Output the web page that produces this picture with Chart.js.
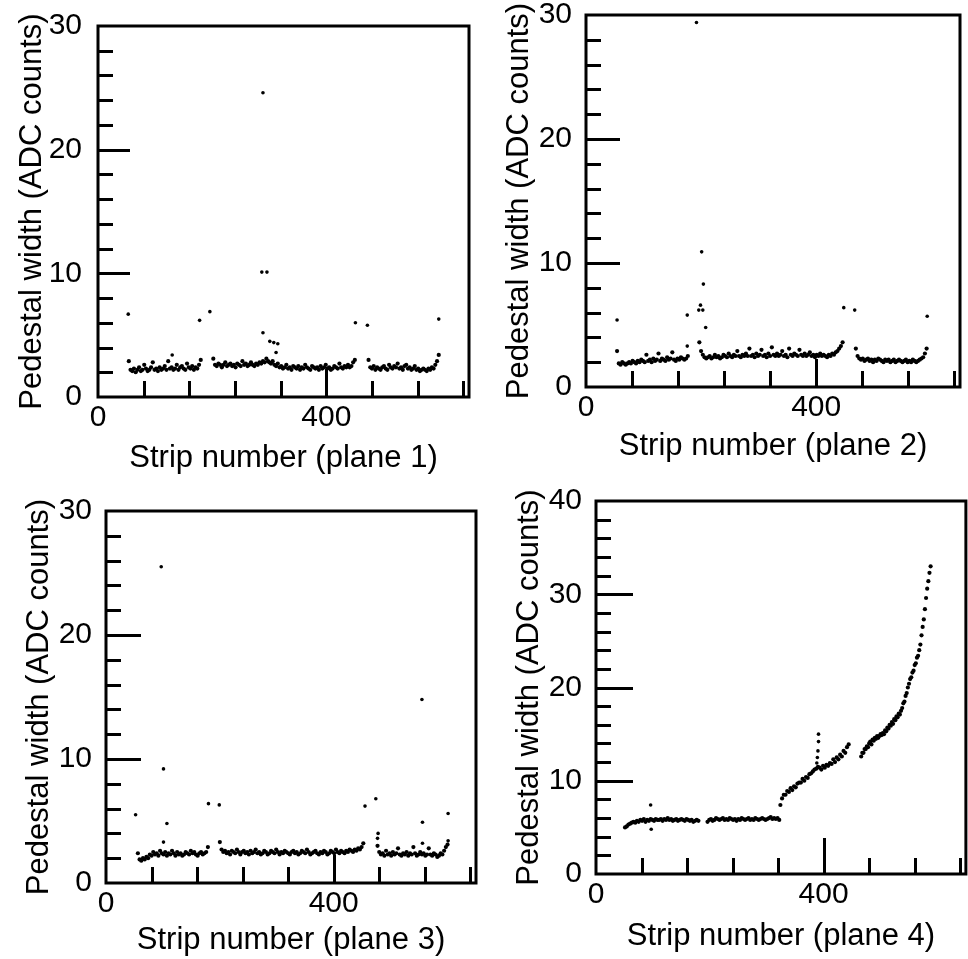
<!DOCTYPE html>
<html>
<head>
<meta charset="utf-8">
<script src="https://cdn.jsdelivr.net/npm/chart.js@4.4.1/dist/chart.umd.min.js"></script>
<style>
html,body{margin:0;padding:0;background:#fff;}
#wrap{position:relative;width:968px;height:959px;overflow:hidden;background:#fff;}
canvas{position:absolute;}
</style>
</head>
<body>
<div id="wrap">
<canvas id="c1" width="484" height="490" style="left:0px;top:0px;width:484px;height:490px"></canvas>
<canvas id="c2" width="484" height="490" style="left:484px;top:0px;width:484px;height:490px"></canvas>
<canvas id="c3" width="484" height="489" style="left:0px;top:470px;width:484px;height:489px"></canvas>
<canvas id="c4" width="484" height="489" style="left:484px;top:470px;width:484px;height:489px"></canvas>
</div>
<script>
// ---------------- DATA ----------------
const xTickLabels = [0, 400];
const xMinorTicks = [80, 160, 240, 320, 400, 480, 560, 640];
const yTickLabels30 = [0, 10, 20, 30];
const yTickLabels40 = [0, 10, 20, 30, 40];
const yTitle = 'Pedestal width (ADC counts)';
const xTitles = ['Strip number (plane 1)', 'Strip number (plane 2)', 'Strip number (plane 3)', 'Strip number (plane 4)'];

// plane 1: contiguous readout groups (first strip, strip step, widths)
const plane1SegStart = [54, 202, 300, 474];
const plane1SegStep = [3, 3, 3, 3];
const plane1SegA = [2.9,2.2,2.1,2.3,2.0,2.2,2.4,2.1,2.2,2.6,2.3,2.1,2.2,2.4,2.8,2.2,2.3,2.1,2.4,2.2,2.3,2.5,2.2,2.9,2.3,2.4,2.2,2.3,2.6,2.2,2.4,2.5,2.3,2.2,2.7,2.4,2.3,2.5,2.2,2.4,2.3,2.6,3.0];
const plane1SegB = [3.1,2.6,2.5,2.7,2.6,2.4,2.6,2.8,2.5,2.6,2.7,2.5,2.6,2.4,2.7,2.6,2.5,2.9,2.6,2.7,2.5,2.6,2.8,2.6,2.5,2.7,2.6,2.8,2.7,2.9,2.8,3.1,2.9];
const plane1SegC = [2.8,2.7,2.9,2.6,2.5,2.7,2.4,2.5,2.3,2.4,2.6,2.3,2.4,2.2,2.5,2.4,2.3,2.5,2.2,2.4,2.3,2.6,2.4,2.3,2.2,2.5,2.4,2.3,2.4,2.2,2.5,2.3,2.4,2.6,2.3,2.4,2.2,2.3,2.5,2.4,2.3,2.7,2.4,2.3,2.5,2.4,2.6,2.4,2.5,2.8,3.0];
const plane1SegD = [3.0,2.4,2.3,2.5,2.2,2.4,2.3,2.2,2.4,2.5,2.3,2.2,2.6,2.4,2.3,2.5,2.4,2.7,2.3,2.4,2.2,2.5,2.6,2.3,2.4,2.2,2.3,2.5,2.2,2.3,2.1,2.2,2.3,2.2,2.1,2.3,2.2,2.4,2.3,2.6,2.9,3.4];
const plane1OutStrip = [53, 130, 178, 196, 287, 289, 289, 296, 301, 308, 312, 315, 451, 472, 597];
const plane1OutWidth = [6.7, 3.4, 6.2, 6.9, 10.1, 24.6, 5.2, 10.1, 4.5, 4.4, 3.6, 4.3, 6.0, 5.8, 6.3];

// plane 2
const plane2SegStart = [54, 197, 469];
const plane2SegStep = [3, 3, 3];
const plane2SegA = [2.9,1.9,1.8,2.0,1.9,1.8,1.9,2.0,1.9,2.1,2.0,1.9,2.1,2.0,2.2,2.1,2.0,2.6,2.1,2.2,2.0,2.3,2.1,2.2,2.7,2.1,2.3,2.2,2.1,2.4,2.2,2.3,2.8,2.2,2.1,2.3,2.2,2.4,2.3,2.2,2.3,2.5];
const plane2SegB = [3.6,2.9,2.6,2.4,2.3,2.4,2.5,2.3,2.4,2.6,2.4,2.5,2.3,2.4,2.6,2.5,2.4,2.7,2.5,2.4,2.6,2.5,2.9,2.5,2.4,2.6,2.5,2.7,2.5,3.1,2.5,2.6,2.4,2.7,2.5,2.6,3.0,2.5,2.6,2.4,2.7,2.5,3.2,2.6,2.5,2.7,2.5,2.6,2.9,2.5,2.6,2.4,3.1,2.6,2.5,2.7,2.6,2.5,3.0,2.6,2.5,2.7,2.5,2.6,2.8,2.5,2.6,2.4,2.6,2.5,2.7,2.5,2.6,2.5,2.4,2.6,2.5,2.7,2.6,2.8,2.9,3.1,3.3,3.6];
const plane2SegC = [3.1,2.5,2.3,2.2,2.3,2.1,2.2,2.3,2.1,2.2,2.0,2.2,2.1,2.3,2.2,2.1,2.0,2.2,2.1,2.2,2.0,2.1,2.2,2.0,2.1,2.2,2.1,2.0,2.1,2.2,2.0,2.1,2.0,2.2,2.1,2.0,2.1,2.2,2.3,2.4,2.7,3.1];
const plane2OutStrip = [54, 176, 176, 192, 196, 199, 201, 203, 204, 208, 448, 467, 593];
const plane2OutWidth = [5.4, 5.8, 3.3, 29.4, 6.2, 6.6, 10.9, 6.2, 8.3, 4.8, 6.4, 6.2, 5.7];

// plane 3
const plane3SegStart = [56, 200, 477];
const plane3SegStep = [3, 3, 3];
const plane3SegA = [2.4,1.9,1.8,2.0,1.9,2.1,2.0,2.3,2.2,2.5,2.3,2.4,2.2,2.6,2.4,2.3,2.5,2.2,2.4,2.3,2.6,2.4,2.2,2.5,2.3,2.4,2.2,2.3,2.5,2.4,2.3,2.6,2.4,2.5,2.3,2.2,2.4,2.5,2.3,2.4,2.5,2.9];
const plane3SegB = [3.3,2.7,2.5,2.6,2.4,2.5,2.3,2.6,2.5,2.4,2.7,2.5,2.3,2.5,2.6,2.4,2.5,2.3,2.6,2.4,2.5,2.7,2.4,2.5,2.3,2.4,2.6,2.5,2.3,2.4,2.6,2.5,2.4,2.7,2.5,2.3,2.5,2.4,2.6,2.5,2.4,2.3,2.5,2.6,2.4,2.5,2.3,2.4,2.6,2.5,2.4,2.7,2.5,2.3,2.4,2.5,2.6,2.4,2.3,2.5,2.4,2.6,2.5,2.3,2.4,2.6,2.5,2.4,2.7,2.5,2.4,2.6,2.5,2.4,2.6,2.5,2.7,2.6,2.5,2.7,2.6,2.8,2.7,2.9,3.2];
const plane3SegC = [3.0,2.5,2.3,2.4,2.2,2.6,2.3,2.4,2.2,2.5,2.3,2.4,2.8,2.3,2.2,2.4,2.3,2.5,2.2,2.4,2.3,2.9,2.4,2.2,2.3,2.5,2.3,2.4,2.2,2.3,2.8,2.3,2.2,2.4,2.3,2.1,2.2,2.4,2.3,2.6,2.9,3.1];
const plane3OutStrip = [52, 97, 101, 101, 107, 180, 199, 455, 474, 477, 478, 555, 556, 556, 601, 601];
const plane3OutWidth = [5.5, 25.5, 9.2, 3.3, 4.8, 6.4, 6.3, 6.2, 6.8, 3.6, 4.0, 14.8, 4.9, 3.2, 5.6, 3.4];

// plane 4
const plane4SegStart = [51, 196, 324, 466];
const plane4SegStep = [3, 3, 3, 2];
const plane4SegA = [5.0,5.1,5.3,5.4,5.5,5.6,5.5,5.7,5.6,5.8,5.7,5.9,5.6,5.8,5.7,5.9,5.8,5.7,5.9,5.8,5.8,5.9,5.7,5.9,5.8,6.0,5.8,5.9,5.7,5.8,5.9,5.7,5.8,5.9,5.8,5.7,5.9,5.8,5.7,5.8,5.6,5.7,5.8,5.7];
const plane4SegB = [5.6,5.8,5.9,5.7,5.8,6.0,5.9,5.8,5.9,6.0,5.8,5.9,5.8,6.0,5.9,5.8,5.9,5.7,5.9,5.8,6.0,5.9,5.8,5.9,6.0,5.8,5.9,5.8,6.0,5.9,5.8,5.9,6.0,5.9,5.8,5.9,6.0,6.1,5.9,6.0,5.9,6.0,5.8];
const plane4SegC = [7.4,8.1,8.5,8.5,8.9,8.8,9.2,9.0,9.4,9.3,9.7,9.8,9.8,10.2,10.0,10.4,10.3,10.7,10.8,11.0,11.2,11.3,11.5,11.4,11.2,11.6,11.4,11.7,11.6,11.9,11.8,12.3,12.0,12.5,12.3,12.8,12.6,13.2,13.0,13.6,13.9];
const plane4SegD = [12.6,13.0,13.0,13.4,13.4,13.7,13.6,14.0,14.2,13.9,14.4,14.3,14.6,14.5,14.8,14.6,14.8,15.0,14.9,15.1,15.0,15.4,15.3,15.7,15.6,16.0,15.9,16.3,16.1,16.6,16.5,16.9,16.8,17.2,17.1,17.5,17.8,18.3,18.5,19.1,19.4,20.0,20.4,20.9,21.1,21.6,21.8,22.4,22.6,23.2,23.4,24.0,24.6,25.6,26.5,27.3,28.4,29.6,30.6,31.4,32.3,33.0];
const plane4OutStrip = [96, 97, 388, 389, 390, 391, 391];
const plane4OutWidth = [7.4, 4.8, 11.9, 12.5, 13.2, 14.2, 15.0];

// ---------------- BUILD ----------------
function bandPoints(starts, steps, segs) {
  const pts = [];
  segs.forEach((seg, k) => seg.forEach((w, i) => pts.push({x: starts[k] + steps[k] * i, y: w})));
  return pts;
}
function outPoints(strips, widths) {
  return strips.map((s, i) => ({x: s, y: widths[i]}));
}

const FONT = "'Liberation Sans', Arial, Helvetica, sans-serif";
Chart.defaults.font.family = FONT;
Chart.defaults.color = '#000';

const frameTicks = {
  id: 'frameTicks',
  afterDraw(chart, args, o) {
    const {ctx, chartArea: a, scales: {x, y}} = chart;
    ctx.save();
    ctx.strokeStyle = '#000';
    ctx.lineWidth = 3;
    ctx.lineCap = 'butt';
    ctx.beginPath();
    ctx.rect(a.left, a.top, a.right - a.left, a.bottom - a.top);
    ctx.stroke();
    ctx.beginPath();
    o.yMinor.forEach(v => {
      if (v <= y.min || v >= y.max) return;
      const py = Math.round(y.getPixelForValue(v)) + 0.5;
      const len = (v % 10 === 0) ? o.yMajorLen : o.yMinorLen;
      ctx.moveTo(a.left, py); ctx.lineTo(a.left + len, py);
    });
    xMinorTicks.forEach(v => {
      const px = Math.round(x.getPixelForValue(v)) + 0.5;
      const len = (v === 400) ? o.xMajorLen : o.xMinorLen;
      ctx.moveTo(px, a.bottom); ctx.lineTo(px, a.bottom - len);
    });
    ctx.stroke();
    ctx.restore();
  }
};

function makeChart(id, cfg) {
  const yMinor = [];
  for (let v = 0; v <= cfg.yMax; v += 2) yMinor.push(v);
  return new Chart(document.getElementById(id), {
    type: 'scatter',
    data: {
      datasets: [
        {data: cfg.band, pointRadius: 2.1, pointBackgroundColor: '#000', pointBorderWidth: 0, pointHoverRadius: 2.1},
        {data: cfg.out, pointRadius: 1.8, pointBackgroundColor: '#000', pointBorderWidth: 0, pointHoverRadius: 1.8}
      ]
    },
    options: {
      responsive: false,
      animation: false,
      devicePixelRatio: 1,
      events: [],
      layout: {padding: {top: cfg.padTop, right: cfg.padRight, left: 0, bottom: 0}},
      plugins: {
        legend: {display: false},
        tooltip: {enabled: false},
        frameTicks: {yMinor: yMinor, yMajorLen: cfg.yMajorLen, yMinorLen: 15, xMajorLen: cfg.xMajorLen, xMinorLen: 16}
      },
      scales: {
        x: {
          type: 'linear', min: 0, max: 650,
          afterBuildTicks: s => { s.ticks = xTickLabels.map(v => ({value: v})); },
          afterFit: s => { s.height = cfg.xH; s.paddingLeft = 0; s.paddingRight = 0; },
          grid: {display: false, drawTicks: false, tickLength: 0},
          border: {display: false},
          ticks: {autoSkip: false, maxRotation: 0, minRotation: 0, padding: 3, color: '#000', font: {size: 30}},
          title: {display: true, text: cfg.xTitle, color: '#000', font: {size: 31}, padding: {top: 0, bottom: cfg.xTitlePad}}
        },
        y: {
          type: 'linear', min: 0, max: cfg.yMax,
          afterBuildTicks: s => { s.ticks = cfg.yLabels.map(v => ({value: v})); },
          afterFit: s => { s.width = cfg.yW; s.paddingTop = 0; s.paddingBottom = 0; },
          grid: {display: false, drawTicks: false, tickLength: 0},
          border: {display: false},
          ticks: {autoSkip: false, padding: cfg.yLabPad, color: '#000', font: {size: 30}},
          title: {display: true, text: yTitle, color: '#000', font: {size: 31}, padding: {top: cfg.yTitlePad, bottom: 0}}
        }
      }
    },
    plugins: [frameTicks]
  });
}

makeChart('c1', {
  band: bandPoints(plane1SegStart, plane1SegStep, [plane1SegA, plane1SegB, plane1SegC, plane1SegD]),
  out: outPoints(plane1OutStrip, plane1OutWidth),
  yMax: 30, yLabels: yTickLabels30, xTitle: xTitles[0],
  padTop: 26, padRight: 15, yW: 98, xH: 93, xTitlePad: 13.4, yTitlePad: 13.4, yLabPad: 16,
  yMajorLen: 32, xMajorLen: 28
});
makeChart('c2', {
  band: bandPoints(plane2SegStart, plane2SegStep, [plane2SegA, plane2SegB, plane2SegC]),
  out: outPoints(plane2OutStrip, plane2OutWidth),
  yMax: 30, yLabels: yTickLabels30, xTitle: xTitles[1],
  padTop: 15, padRight: 8, yW: 102, xH: 103, xTitlePad: 25.4, yTitlePad: 16.4, yLabPad: 14,
  yMajorLen: 34, xMajorLen: 28
});
makeChart('c3', {
  band: bandPoints(plane3SegStart, plane3SegStep, [plane3SegA, plane3SegB, plane3SegC]),
  out: outPoints(plane3OutStrip, plane3OutWidth),
  yMax: 30, yLabels: yTickLabels30, xTitle: xTitles[2],
  padTop: 41, padRight: 8, yW: 106, xH: 76, xTitlePad: 0, yTitlePad: 20.4, yLabPad: 14,
  yMajorLen: 35, xMajorLen: 28
});
makeChart('c4', {
  band: bandPoints(plane4SegStart, plane4SegStep, [plane4SegA, plane4SegB, plane4SegC, plane4SegD]),
  out: outPoints(plane4OutStrip, plane4OutWidth),
  yMax: 40, yLabels: yTickLabels40, xTitle: xTitles[3],
  padTop: 31, padRight: 1, yW: 112, xH: 85, xTitlePad: 4.4, yTitlePad: 26.4, yLabPad: 14,
  yMajorLen: 37, xMajorLen: 36
});
</script>
</body>
</html>
